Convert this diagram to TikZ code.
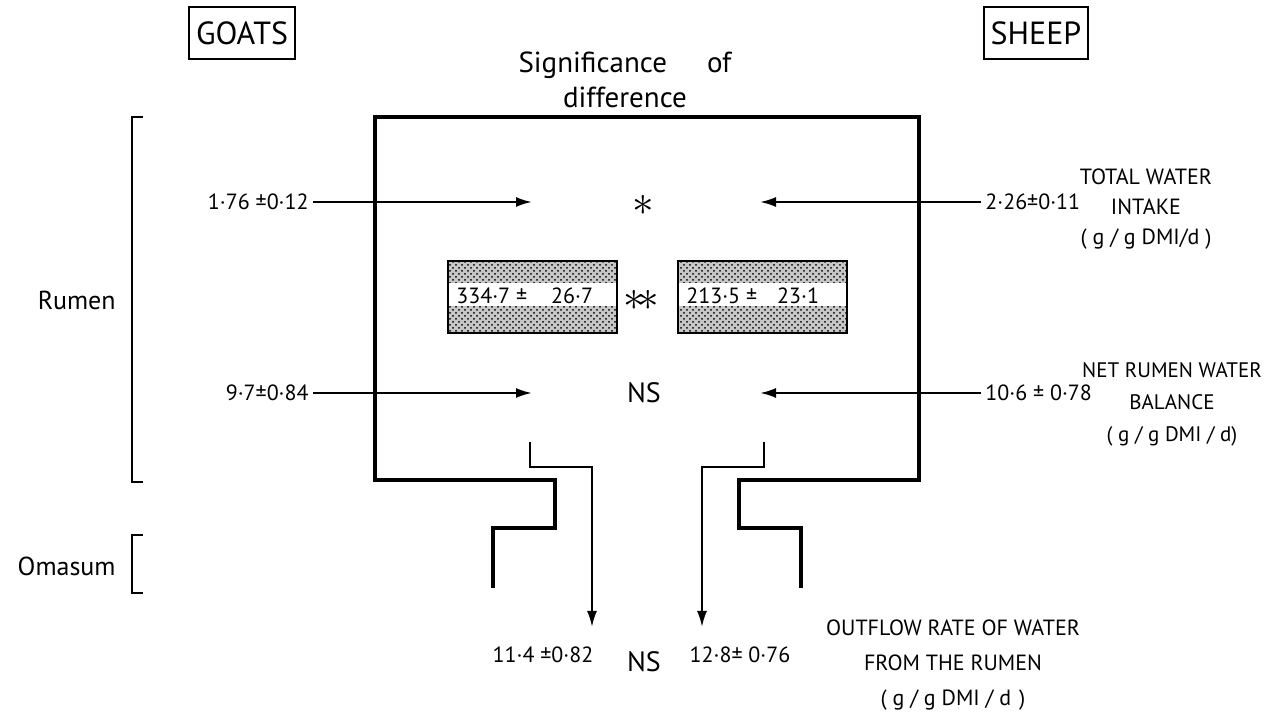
\documentclass[tikz,border=0pt]{standalone}
\usepackage{fontspec}
\setmainfont{PT Sans}
\usetikzlibrary{patterns,arrows.meta}
\begin{document}
\begin{tikzpicture}[x=0.5pt,y=-0.5pt,
		wall/.style={line width=1.8pt},
		flow/.style={line width=1.1pt,-{Latex[length=8pt,width=5pt]}},
		brace/.style={line width=1pt},
		val/.style={font=\fontsize{11}{12}\selectfont,inner sep=2pt},
		lab/.style={font=\fontsize{11}{15}\selectfont,align=center,inner sep=0pt},
		sig/.style={font=\fontsize{14}{17}\selectfont,inner sep=0pt},
		tag/.style={draw,line width=1pt,font=\fontsize{16}{18}\selectfont,minimum width=52pt,minimum height=26pt}]
	\useasboundingbox (0,0) rectangle (1266,715);
	\node[tag] (goats) at (242,33) {GOATS};
	\node[tag] (sheep) at (1036,33) {SHEEP};
	\node[sig,align=center,font=\fontsize{14.5}{17.5}\selectfont] (title) at (625,80) {Significance\hspace{20pt}of\\difference};
	\draw[wall] (493,588) -- (493,528) -- (555,528) -- (555,480) -- (375,480) -- (375,117) -- (919,117)
		-- (919,480) -- (739,480) -- (739,528) -- (801,528) -- (801,588);
	\draw[brace] (143,117) -- (132,117) -- (132,482) -- (143,482);
	\draw[brace] (143,535) -- (132,535) -- (132,593) -- (143,593);
	\node[sig,anchor=east,font=\fontsize{13}{15}\selectfont] (rumen) at (116,300) {Rumen};
	\node[sig,anchor=east,font=\fontsize{13}{15}\selectfont] (omasum) at (116,566) {Omasum};
	\node[val,anchor=east] (gintake) at (313,202) {1·76 ±0·12};
	\node[val,anchor=east] (gbal) at (313,393) {9·7±0·84};
	\node[val,anchor=west] (sintake) at (981,202) {2·26±0·11};
	\node[val,anchor=west] (sbal) at (981,393) {10·6 ± 0·78};
	\coordinate (gintakeend) at (532,202);
	\coordinate (gbalend) at (532,393);
	\coordinate (sintakeend) at (760,202);
	\coordinate (sbalend) at (760,393);
	\draw[flow] (gintake) -- (gintakeend);
	\draw[flow] (gbal) -- (gbalend);
	\draw[flow] (sintake) -- (sintakeend);
	\draw[flow] (sbal) -- (sbalend);
	\node[sig,scale=1.5] (star) at (643,205) {$\ast$};
	\node[sig,scale=1.5] (stars) at (641,300) {$\ast\!\ast$};
	\node[sig] (ns) at (644,393) {NS};
	\node[sig] (nsout) at (644,662) {NS};
	\foreach \bx/\bv [count=\i] in {448/{334·7 ±\hspace{12pt}26·7},678/{213·5 ±\hspace{10pt}23·1}}{
		\fill[black!22] (\bx,261) rectangle ++(169,72);
		\fill[pattern=crosshatch dots] (\bx,261) rectangle ++(169,72);
		\fill[white] (\bx,283) rectangle ++(169,23);
		\draw[line width=1pt] (\bx,261) rectangle ++(169,72);
		\node[val,anchor=west] (vol\i) at (\bx+4,296) {\bv};
	}
	\coordinate (gout) at (530,442);
	\coordinate (goutend) at (592,627);
	\coordinate (sout) at (764,442);
	\coordinate (soutend) at (702,627);
	\draw[flow] (gout) -- ++(0,25) -| (goutend);
	\draw[flow] (sout) -- ++(0,25) -| (soutend);
	\node[val] (goutval) at (543,655) {11·4 ±0·82};
	\node[val] (soutval) at (740,655) {12·8± 0·76};
	\node[lab] (intake) at (1146,209) {TOTAL WATER\\INTAKE\\( g / g DMI/d )};
	\node[lab,font=\fontsize{10.5}{16}\selectfont] (balance) at (1172,404) {NET RUMEN WATER\\BALANCE\\( g / g DMI / d)};
	\node[lab,font=\fontsize{11}{17.5}\selectfont] (outflow) at (953,665) {OUTFLOW RATE OF WATER\\FROM THE RUMEN\\( g / g DMI / d\hspace{4pt})};
\end{tikzpicture}
\end{document}
